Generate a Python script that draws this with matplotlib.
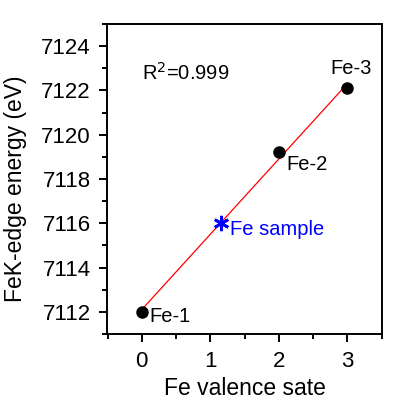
import numpy as np
import matplotlib
matplotlib.use("Agg")
import matplotlib.pyplot as plt
from matplotlib.ticker import MultipleLocator

plt.rcParams['font.family'] = ['Liberation Sans', 'DejaVu Sans']

# data
valence = [0, 2, 3]
edge_energy = [7112.0, 7119.2, 7122.1]
ref_names = ["Fe-1", "Fe-2", "Fe-3"]
sample_valence = 1.15
sample_name = "Fe sample"
r2_text = "R$^2$=0.999"

slope, intercept = np.polyfit(valence, edge_energy, 1)
sample_energy = slope * sample_valence + intercept

fig = plt.figure(figsize=(3.93, 4.04), dpi=100)
ax = fig.add_axes([107.5 / 393, 1 - 334 / 404, 274 / 393, 310 / 404])

fit_x = np.array([0, 3])
ax.plot(fit_x, slope * fit_x + intercept, color="red", lw=0.9, zorder=2)
ax.plot(valence, edge_energy, "o", color="black", ms=8, zorder=3)
ax.plot([sample_valence], [sample_energy], marker=(6, 2, 0), color="blue",
        ms=11, mew=2, ls="none", zorder=4)

ann = dict(fontsize=14.5, va="center")
ax.text(0.11, 7111.8, ref_names[0], ha="left", **ann)
ax.text(2.11, 7118.65, ref_names[1], ha="left", **ann)
ax.text(3.05, 7123.0, ref_names[2], ha="center", **ann)
ax.text(1.29, 7115.7, sample_name, ha="left", color="blue", **ann)
ax.text(0.0, 7122.8, r2_text, ha="left", **ann)

ax.set_xlim(-0.5, 3.5)
ax.set_ylim(7111, 7125)
ax.xaxis.set_major_locator(MultipleLocator(1))
ax.xaxis.set_minor_locator(MultipleLocator(0.5))
ax.yaxis.set_major_locator(MultipleLocator(2))
ax.yaxis.set_minor_locator(MultipleLocator(1))
ax.tick_params(which="major", direction="out", length=6, width=1.4,
               pad=6, labelsize=16)
ax.tick_params(which="minor", direction="out", length=3.5, width=1.4)
ax.tick_params(top=False, right=False, which="both")
for s in ax.spines.values():
    s.set_linewidth(1.4)

ax.set_xlabel("Fe valence sate", fontsize=16.5)
ax.set_ylabel("FeK-edge energy (eV)", fontsize=16.5)
ax.xaxis.set_label_coords(0.5, -0.139)
ax.yaxis.set_label_coords(-0.294, 0.468)

fig.savefig("out.png", dpi=100)
